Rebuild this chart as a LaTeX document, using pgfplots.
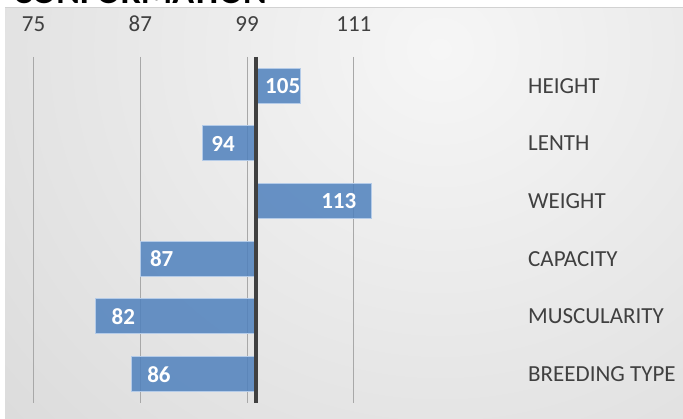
\documentclass[border=0pt]{standalone}
\usepackage{pgfplots}
\pgfplotsset{compat=1.18}
\usepackage{pgfplotstable}
\usepackage{fontspec}
\setmainfont{Carlito}
\definecolor{txt}{HTML}{404040}
\definecolor{barfill}{HTML}{4F81BD}
\definecolor{baredge}{HTML}{B4CBE8}
\definecolor{bglight}{HTML}{F6F6F6}
\definecolor{bgdark}{HTML}{CBCBCB}
\definecolor{gridc}{HTML}{A8A8A8}
\pgfdeclareradialshading{bgshade}{\pgfpointorigin}{color(0bp)=(bglight); color(40bp)=(bgdark); color(50bp)=(bgdark)}

% d = value - 100 (bars start at the 100 line)
\pgfplotstableread{
y d v
0 5 105
1 -6 94
2 13 113
3 -13 87
4 -18 82
5 -14 86
}\bars
% label positions (value - 100)
\pgfplotstableread{
y lx v
0 3.0 105
1 -3.7 94
2 9.3 113
3 -10.6 87
4 -14.9 82
5 -10.9 86
}\labs

\begin{document}
\begin{tikzpicture}[x=1pt,y=1pt]
\begin{scope}
\clip (5,0) rectangle (683,411.5);
\fill[bgdark] (5,0) rectangle (683,411.5);
\shade[shading=bgshade] (440,370) ellipse (600 and 570);
\end{scope}
\draw[color=gray!35, line width=0.8pt] (5,411.5) -- (683,411.5);
\node[anchor=base west, inner sep=0pt, font=\bfseries\fontsize{36}{36}\selectfont] at (13,415.5) {CONFORMATION};

\begin{axis}[
  at={(33.5pt,16pt)}, anchor=south west,
  scale only axis,
  width=489.5pt, height=346pt,
  xmin=-25, xmax=30,
  ymin=-0.5, ymax=5.5,
  y dir=reverse,
  xtick={-25,-13,-1,11},
  xticklabels={75,87,99,111},
  xticklabel pos=upper,
  xticklabel style={anchor=base, inner sep=0pt, yshift=25pt, text=txt, font=\fontsize{23}{23}\selectfont},
  ytick={0,1,2,3,4,5},
  yticklabels={HEIGHT,LENTH,WEIGHT,CAPACITY,MUSCULARITY,BREEDING TYPE},
  yticklabel pos=right,
  yticklabel style={anchor=west, inner sep=0pt, xshift=5pt, text=txt, font=\fontsize{23}{23}\selectfont},
  /pgf/number format/assume math mode=true,
  axis line style={draw=none},
  major tick length=0pt,
  xmajorgrids,
  grid style={color=gridc, line width=1pt},
  clip=false,
]
\addplot[xbar, bar width=35pt, bar shift=0pt, fill=barfill, fill opacity=0.85, draw=baredge, line width=1pt]
  table[x=d, y=y] {\bars};
\draw[color=txt, line width=4pt] (axis cs:0,-0.5) -- (axis cs:0,5.5);
\addplot[draw=none, mark=none, nodes near coords, point meta=explicit symbolic,
  every node near coord/.append style={anchor=center, text=white, font=\bfseries\fontsize{23}{23}\selectfont}]
  table[x=lx, y=y, meta=v] {\labs};
\end{axis}
\pgfresetboundingbox
\path[use as bounding box] (0,0) rectangle (683,419);
\end{tikzpicture}
\end{document}
